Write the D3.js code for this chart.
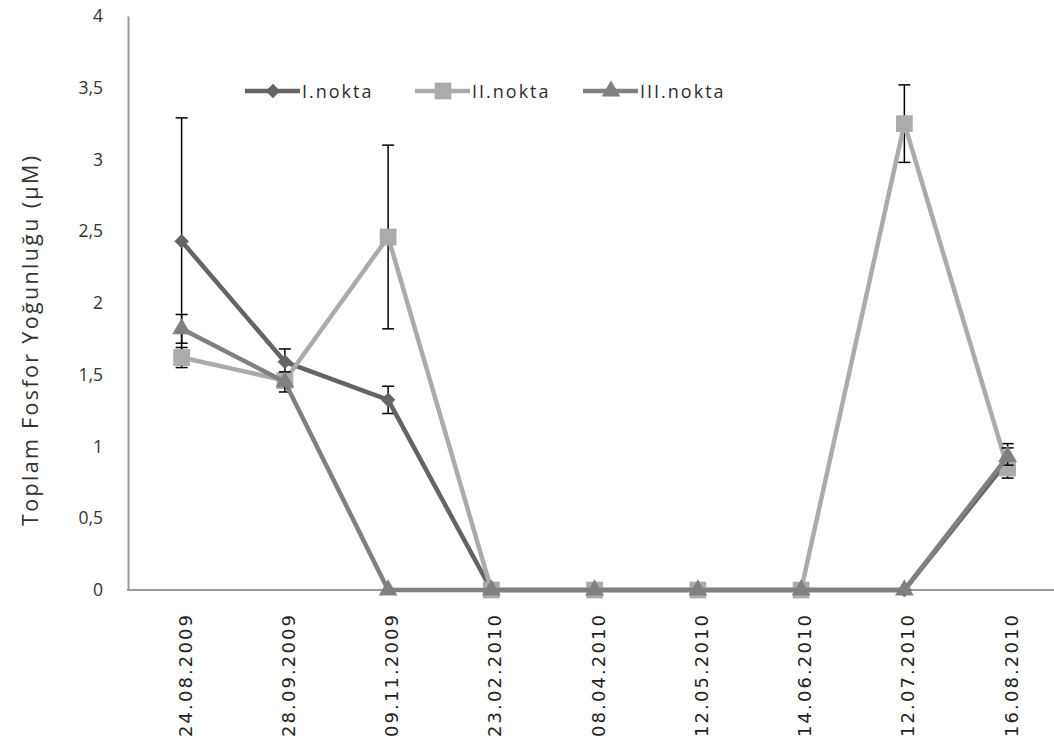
<!DOCTYPE html>
<html>
<head>
<meta charset="utf-8">
<script src="https://cdn.jsdelivr.net/npm/d3@7"></script>
<style>
  html, body { margin: 0; padding: 0; background: #fff; }
  svg { display: block; }
  text { font-family: "Open Sans", sans-serif; }
</style>
</head>
<body>
<svg id="chart" width="1054" height="744"></svg>
<script>
// Sampling dates
const dates = ["24.08.2009", "28.09.2009", "09.11.2009", "23.02.2010", "08.04.2010",
               "12.05.2010", "14.06.2010", "12.07.2010", "16.08.2010"];

// Total phosphorus (µM) per station, with standard deviation
const seriesNames = ["I.nokta", "II.nokta", "III.nokta"];
const nokta1 = [2.43, 1.59, 1.325, 0, 0, 0, 0, 0, 0.90];
const nokta2 = [1.62, 1.46, 2.46, 0, 0, 0, 0, 3.25, 0.85];
const nokta3 = [1.82, 1.45, 0, 0, 0, 0, 0, 0, 0.93];
const sd1 = [0.86, 0.09, 0.095, 0, 0, 0, 0, 0, 0.12];
const sd2 = [0.07, 0.05, 0.64, 0, 0, 0, 0, 0.27, 0.03];
const sd3 = [0.10, 0.07, 0, 0, 0, 0, 0, 0, 0.06];

const yTicks = [0, 0.5, 1, 1.5, 2, 2.5, 3, 3.5, 4];

const colors = ["#646464", "#ababab", "#808080"];
const shapes = ["diamond", "square", "triangle"];

const series = seriesNames.map((name, i) => ({
  name,
  values: [nokta1, nokta2, nokta3][i],
  sd: [sd1, sd2, sd3][i],
  color: colors[i],
  shape: shapes[i]
}));

const svg = d3.select("#chart");

const x = d3.scaleBand().domain(dates).range([130, 1059.25]);
const cx = d => x(d) + x.bandwidth() / 2;
const y = d3.scaleLinear().domain([0, 4]).range([590, 16]);

// Axes: plain grey lines, no tick marks
const yAxis = svg.append("g")
  .attr("transform", "translate(128,0)")
  .call(d3.axisLeft(y).tickValues(yTicks).tickSize(0).tickPadding(25)
    .tickFormat(d => String(d).replace(".", ",")));
yAxis.select(".domain").attr("stroke", "#9a9a9a").attr("stroke-width", 2);
yAxis.selectAll("text")
  .attr("fill", "#333").style("font-size", "17.5px")
  .style("font-family", "'Open Sans', sans-serif");

const xAxis = svg.append("g")
  .attr("transform", "translate(0,590)")
  .call(d3.axisBottom(x).tickSize(0).tickFormat(""));
xAxis.select(".domain").attr("d", "M127,0H1054").attr("stroke", "#9a9a9a").attr("stroke-width", 2);

// Rotated date labels, reading upward from y = 737
svg.append("g").selectAll("text")
  .data(dates)
  .join("text")
  .attr("transform", d => `translate(${cx(d) + 10},737) rotate(-90)`)
  .attr("text-anchor", "start")
  .attr("fill", "#222")
  .attr("textLength", 122)
  .attr("lengthAdjust", "spacing")
  .style("font-family", "'DejaVu Sans', sans-serif")
  .style("font-size", "18px")
  .text(d => d);

// Y axis title
svg.append("text")
  .attr("transform", "translate(38,341) rotate(-90)")
  .attr("text-anchor", "middle")
  .attr("fill", "#333")
  .attr("textLength", 370)
  .attr("lengthAdjust", "spacing")
  .style("font-size", "21.5px")
  .text("Toplam Fosfor Yoğunluğu (µM)");

function markerPath(shape) {
  if (shape === "diamond") return d3.symbol(d3.symbolDiamond2, 135)();
  if (shape === "square") return d3.symbol(d3.symbolSquare, 280)();
  return d3.symbol(d3.symbolTriangle2, 250)();
}

const line = d3.line().x((d, i) => cx(dates[i])).y(d => y(d));

series.forEach(s => {
  const g = svg.append("g");
  // error bars
  const eb = g.append("g").attr("stroke", "#000").attr("stroke-width", 1.5);
  s.values.forEach((v, i) => {
    if (!s.sd[i]) return;
    const px = cx(dates[i]);
    const y1 = y(v + s.sd[i]), y2 = y(v - s.sd[i]);
    eb.append("line").attr("x1", px).attr("x2", px).attr("y1", y1).attr("y2", y2);
    eb.append("line").attr("x1", px - 6).attr("x2", px + 6).attr("y1", y1).attr("y2", y1);
    eb.append("line").attr("x1", px - 6).attr("x2", px + 6).attr("y1", y2).attr("y2", y2);
  });
  g.append("path")
    .attr("d", line(s.values))
    .attr("fill", "none")
    .attr("stroke", s.color)
    .attr("stroke-width", 4.5)
    .attr("stroke-linejoin", "round");
  g.selectAll(".pt")
    .data(s.values)
    .join("path")
    .attr("transform", (d, i) => `translate(${cx(dates[i])},${y(d)})`)
    .attr("d", markerPath(s.shape))
    .attr("fill", s.color);
});

// Legend
const legendX = [245, 415, 583];
series.forEach((s, i) => {
  const lg = svg.append("g").attr("transform", `translate(${legendX[i]},91)`);
  lg.append("line").attr("x1", 0).attr("x2", 55).attr("y1", 0).attr("y2", 0)
    .attr("stroke", s.color).attr("stroke-width", 4.5);
  lg.append("path").attr("transform", "translate(28,0)")
    .attr("d", markerPath(s.shape)).attr("fill", s.color);
  lg.append("text").attr("x", 57).attr("y", 6.5)
    .attr("fill", "#2e2e2e")
    .style("font-size", "18px")
    .style("letter-spacing", "2px")
    .text(s.name);
});
</script>
</body>
</html>
